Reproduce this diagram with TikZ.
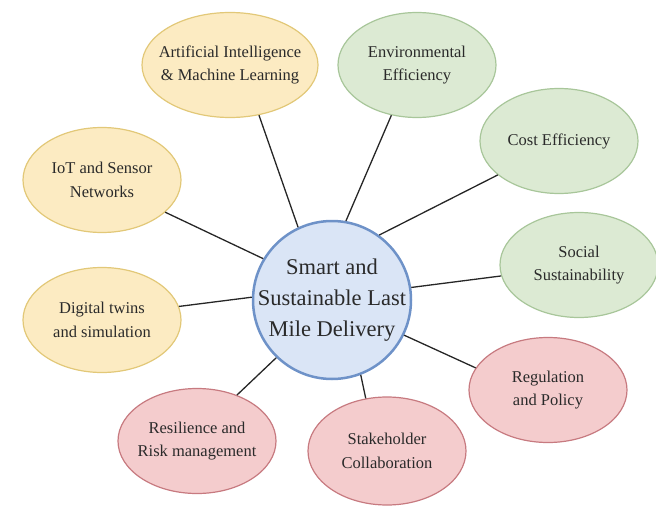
\documentclass[tikz,border=0pt]{standalone}
\usepackage{fontspec}
\setmainfont{Liberation Serif}
\usetikzlibrary{shapes.geometric}
\definecolor{yfill}{HTML}{FCEBC2}
\definecolor{ydraw}{HTML}{E2C878}
\definecolor{gfill}{HTML}{DCEAD3}
\definecolor{gdraw}{HTML}{A8C69A}
\definecolor{pfill}{HTML}{F4CCCD}
\definecolor{pdraw}{HTML}{C77A80}
\definecolor{bfill}{HTML}{DAE5F6}
\definecolor{bdraw}{HTML}{6E92C8}
\definecolor{txt}{HTML}{2A2A2A}
\tikzset{
  bubble/.style={ellipse, draw, line width=1.2pt, minimum width=158pt, minimum height=105pt,
     inner sep=0pt, label={[align=center, text=txt, font=\fontsize{16.5}{23.5}\selectfont]center:#1}},
  ybub/.style={bubble={#1}, fill=yfill, draw=ydraw},
  gbub/.style={bubble={#1}, fill=gfill, draw=gdraw},
  pbub/.style={bubble={#1}, fill=pfill, draw=pdraw},
  hub/.style={circle, draw=bdraw, fill=bfill, line width=2.5pt, minimum size=158pt, inner sep=0pt,
     label={[align=center, text=txt, font=\fontsize{22.5}{31}\selectfont]center:#1}},
  link/.style={draw=black!85, line width=1.3pt}
}
\begin{document}
\begin{tikzpicture}[x=1pt,y=-1pt]
\useasboundingbox (0,0) rectangle (656,511);
\node[hub={Smart and\\Sustainable Last\\Mile Delivery}] (c) at (332,300) {};
\node[ybub={Artificial Intelligence\\\& Machine Learning}, minimum width=176pt] (ai) at (230,65) {};
\node[gbub={Environmental\\Efficiency}] (env) at (417,65) {};
\node[gbub={Cost Efficiency}] (cost) at (559,141) {};
\node[gbub={Social\\Sustainability}] (soc) at (579,265) {};
\node[pbub={Regulation\\and Policy}] (reg) at (548,390) {};
\node[pbub={Stakeholder\\Collaboration}, minimum height=108pt] (stk) at (387,451) {};
\node[pbub={Resilience and\\Risk management}] (res) at (197,441) {};
\node[ybub={Digital twins\\and simulation}] (dig) at (102,320) {};
\node[ybub={IoT and Sensor\\Networks}] (iot) at (102,180) {};
\draw[link] (c.115) -- (ai.300);
\draw[link] (c.80) -- (env.243);
\draw[link] (c.54) -- (cost.209);
\draw[link] (c.9) -- (soc.188);
\draw[link] (c.334) -- (reg.163);
\draw[link] (c.291) -- (stk.112);
\draw[link] (c.226) -- (res.49);
\draw[link] (c.178) -- (dig.10);
\draw[link] (c.149) -- (iot.333);
\end{tikzpicture}
\end{document}
